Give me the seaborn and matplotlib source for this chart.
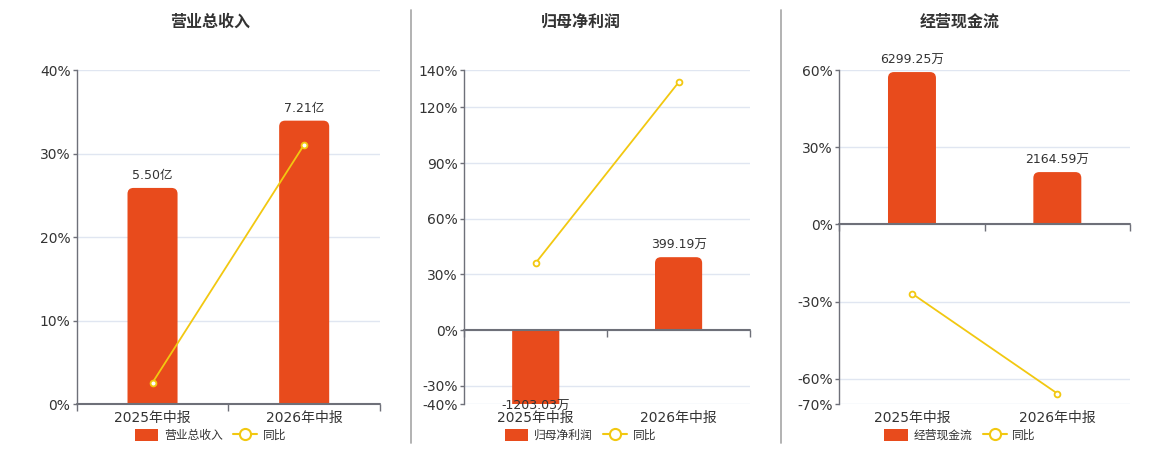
import matplotlib
matplotlib.use('Agg')
import matplotlib.pyplot as plt
import matplotlib.patches as mpatches
from matplotlib.lines import Line2D
from matplotlib.path import Path
import seaborn as sns
import pandas as pd
import numpy as np

# ---- 数据 ----
periods = ['2025年中报', '2026年中报']
panel_titles = ['营业总收入', '归母净利润', '经营现金流']

revenue = [5.50, 7.21]            # 亿
revenue_text = ['5.50亿', '7.21亿']
revenue_yoy = [2.6, 31.1]         # %

profit = [-1203.03, 399.19]       # 万
profit_text = ['-1203.03万', '399.19万']
profit_yoy = [36.2, 133.5]

cashflow = [6299.25, 2164.59]     # 万
cashflow_text = ['6299.25万', '2164.59万']
cashflow_yoy = [-26.9, -65.8]

pct_ticks_1 = [0, 10, 20, 30, 40]
pct_ticks_2 = [-40, -30, 0, 30, 60, 90, 120, 140]
pct_ticks_3 = [-70, -60, -30, 0, 30, 60]

# ---- 样式 ----
BAR_COLOR = '#E84B1C'
LINE_COLOR = '#F2C811'
AXIS_COLOR = '#6E7079'
GRID_COLOR = '#E0E6F1'
TEXT_COLOR = '#333333'

W, H = 1160, 450

sns.set_theme(style='white')
plt.rcParams['font.family'] = ['DejaVu Sans', 'Noto Sans CJK SC']


def round_end_path(x, base, w, h, rx, ry):
    """柱子只在远离零轴的一端做圆角"""
    s = 1 if h >= 0 else -1
    end = base + h
    ry = min(ry, abs(h)) * s
    verts = [
        (x, base), (x, end - ry), (x, end), (x + rx, end),
        (x + w - rx, end), (x + w, end), (x + w, end - ry),
        (x + w, base), (x, base),
    ]
    codes = [Path.MOVETO, Path.LINETO, Path.CURVE3, Path.CURVE3,
             Path.LINETO, Path.CURVE3, Path.CURVE3, Path.LINETO, Path.CLOSEPOLY]
    return Path(verts, codes)


fig = plt.figure(figsize=(W / 100, H / 100), dpi=100)

# 每个面板: (数值, 文本, 同比, 百分比刻度, 柱状隐藏轴范围, 轴位置(px), 标题/图例中心x(px))
panels = [
    (revenue, revenue_text, revenue_yoy, pct_ticks_1, (0, 8.49), (76.7, 303.3), 210.5),
    (profit, profit_text, profit_yoy, pct_ticks_2, (-406, 1422), (464.3, 285.7), 580.5),
    (cashflow, cashflow_text, cashflow_yoy, pct_ticks_3, (-7434, 6372), (839.3, 290.7), 960.0),
]

ax_top, ax_bottom = 70.3, 404.3
radius_px = 6

for k, (vals, texts, yoy, ticks, bar_lim, (x0, wpx), cx) in enumerate(panels):
    rect = [x0 / W, 1 - ax_bottom / H, wpx / W, (ax_bottom - ax_top) / H]
    ax = fig.add_axes(rect)
    ax2 = ax.twinx()
    ax3 = ax.twinx()

    df = pd.DataFrame({'period': periods, 'value': vals, 'yoy': yoy})

    # 百分比主轴
    ax.set_ylim(min(ticks), max(ticks))
    ax.set_yticks(ticks)
    ax.set_yticklabels([f'{t}%' for t in ticks])
    ax.yaxis.grid(True, color=GRID_COLOR, linewidth=1.0)
    ax.set_axisbelow(True)
    for s in ['top', 'right', 'bottom']:
        ax.spines[s].set_visible(False)
    ax.spines['left'].set_color(AXIS_COLOR)
    ax.spines['left'].set_linewidth(1.0)
    ax.tick_params(axis='y', length=3, width=1, color=AXIS_COLOR, pad=1.5,
                   labelsize=10, labelcolor=TEXT_COLOR, left=True)
    ax.set_xlim(-0.5, len(periods) - 0.5)
    ax.set_xticks(range(len(periods)))
    ax.set_xticklabels(periods)
    ax.tick_params(axis='x', length=0, pad=5, labelsize=10, labelcolor=TEXT_COLOR)

    # 柱状图（隐藏轴）
    sns.barplot(data=df, x='period', y='value', order=periods, ax=ax2,
                color=BAR_COLOR, width=0.33, saturation=1, errorbar=None)
    ax2.set_ylim(*bar_lim)
    ax2.set_xlim(-0.5, len(periods) - 0.5)
    ax2.set_ylabel('')
    ax2.set_xlabel('')
    ax2.set_yticks([])
    for s in ax2.spines.values():
        s.set_visible(False)

    # 圆角柱端
    x_px = wpx / 2.0
    y_px = (ax_bottom - ax_top) / (bar_lim[1] - bar_lim[0])
    rx = radius_px / x_px
    ry = radius_px / y_px
    for p in list(ax2.patches):
        bx, by, bw, bh = p.get_x(), p.get_y(), p.get_width(), p.get_height()
        p.remove()
        ax2.add_patch(mpatches.PathPatch(round_end_path(bx, by, bw, bh, rx, ry),
                                         facecolor=BAR_COLOR, edgecolor='none', zorder=2))

    # 柱顶数值
    for i, (v, t) in enumerate(zip(vals, texts)):
        vy = max(v, bar_lim[0])
        if v >= 0:
            ax2.annotate(t, (i, vy), xytext=(0, 4), textcoords='offset points',
                         ha='center', va='bottom', fontsize=9, color=TEXT_COLOR)
        else:
            ax2.annotate(t, (i, vy), xytext=(0, 3), textcoords='offset points',
                         ha='center', va='top', fontsize=9, color=TEXT_COLOR,
                         annotation_clip=False)

    # 零轴与分类刻度
    ax2.axhline(0, color=AXIS_COLOR, linewidth=1.5, zorder=3, clip_on=False)
    bounds = np.arange(len(periods) + 1) - 0.5
    ax2.plot(bounds, np.zeros_like(bounds), linestyle='none', marker=3,
             markersize=5, markeredgewidth=1, color=AXIS_COLOR, clip_on=False, zorder=3)

    # 同比折线
    sns.pointplot(data=df, x='period', y='yoy', order=periods, ax=ax3,
                  color=LINE_COLOR, errorbar=None, markers='o', linewidth=1.3)
    for ln in ax3.lines:
        ln.set_markersize(4.2)
        ln.set_markerfacecolor('white')
        ln.set_markeredgecolor(LINE_COLOR)
        ln.set_markeredgewidth(1.3)
    ax3.set_ylim(min(ticks), max(ticks))
    ax3.set_xlim(-0.5, len(periods) - 0.5)
    ax3.set_ylabel('')
    ax3.set_xlabel('')
    ax3.set_yticks([])
    for s in ax3.spines.values():
        s.set_visible(False)

    # 标题
    fig.text(cx / W, 1 - 22 / H, panel_titles[k], ha='center', va='center',
             fontsize=11.5, fontweight='bold', color=TEXT_COLOR)

    # 图例
    handles = [
        mpatches.FancyBboxPatch((0, 0), 1, 1, boxstyle='round,pad=0,rounding_size=0.25',
                                facecolor=BAR_COLOR, edgecolor='none', label=panel_titles[k]),
        Line2D([], [], color=LINE_COLOR, linewidth=1.5, marker='o', markersize=8,
               markerfacecolor='white', markeredgecolor=LINE_COLOR,
               markeredgewidth=1.5, label='同比'),
    ]
    fig.legend(handles=handles, loc='center', bbox_to_anchor=(cx / W, 1 - 435.5 / H),
               ncol=2, frameon=False, fontsize=8.5, handlelength=2.0, handleheight=1.1,
               handletextpad=0.5, columnspacing=0.9, labelcolor=TEXT_COLOR,
               borderaxespad=0, borderpad=0)

# 面板分隔线
for sx in [410.7, 780.7]:
    fig.add_artist(Line2D([sx / W, sx / W], [1 - 10 / H, 1 - 443 / H],
                          transform=fig.transFigure, color='#ADADAD', linewidth=1.3))

fig.savefig('out.png', dpi=100)
